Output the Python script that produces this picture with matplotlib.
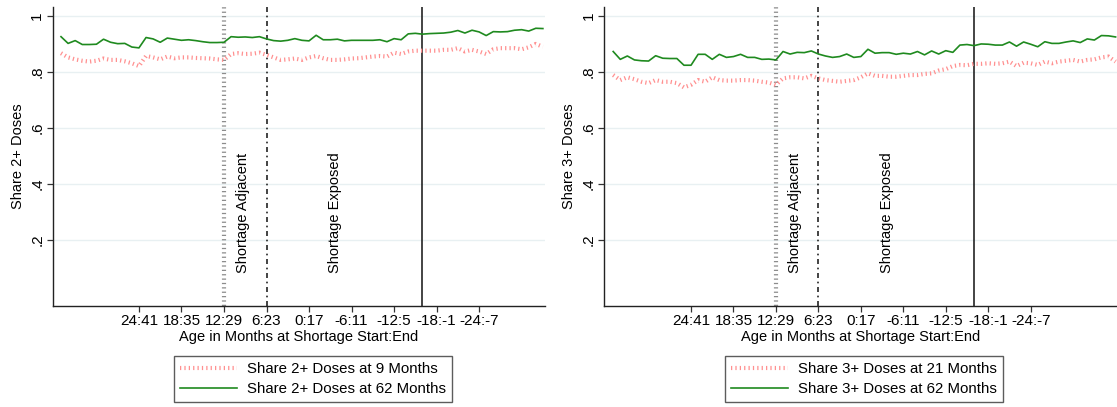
import numpy as np
import matplotlib.pyplot as plt

plt.rcParams['font.family'] = ['Liberation Sans', 'DejaVu Sans']
plt.rcParams['font.size'] = 10.5

# age in months at shortage start (x axis runs from old to young)
start_left = np.arange(35, -34, -1)
start_right = np.arange(35, -37, -1)

share2_9m = [0.867, 0.852, 0.845, 0.840, 0.837, 0.840, 0.848, 0.843, 0.843, 0.838,
             0.831, 0.821, 0.857, 0.852, 0.845, 0.855, 0.849, 0.852, 0.852, 0.850,
             0.849, 0.848, 0.845, 0.843, 0.864, 0.867, 0.864, 0.865, 0.869, 0.861,
             0.852, 0.843, 0.845, 0.848, 0.843, 0.852, 0.857, 0.849, 0.843, 0.843,
             0.845, 0.848, 0.849, 0.852, 0.855, 0.857, 0.855, 0.869, 0.864, 0.873,
             0.876, 0.876, 0.876, 0.876, 0.879, 0.879, 0.885, 0.873, 0.879, 0.873,
             0.864, 0.881, 0.885, 0.885, 0.885, 0.881, 0.888, 0.900, 0.890]
share2_62m = [0.926, 0.902, 0.912, 0.898, 0.898, 0.899, 0.917, 0.906, 0.901, 0.902,
              0.889, 0.886, 0.923, 0.918, 0.906, 0.921, 0.917, 0.913, 0.915, 0.912,
              0.908, 0.905, 0.905, 0.906, 0.926, 0.924, 0.925, 0.923, 0.926, 0.918,
              0.912, 0.910, 0.913, 0.919, 0.913, 0.911, 0.931, 0.915, 0.915, 0.917,
              0.911, 0.913, 0.913, 0.913, 0.913, 0.915, 0.908, 0.919, 0.915, 0.936,
              0.938, 0.935, 0.937, 0.938, 0.939, 0.942, 0.948, 0.939, 0.949, 0.943,
              0.930, 0.944, 0.943, 0.944, 0.949, 0.951, 0.946, 0.956, 0.955]
share3_21m = [0.789, 0.771, 0.781, 0.774, 0.765, 0.760, 0.771, 0.765, 0.765, 0.760,
              0.745, 0.754, 0.771, 0.765, 0.781, 0.771, 0.769, 0.769, 0.771, 0.771,
              0.769, 0.765, 0.762, 0.754, 0.777, 0.781, 0.781, 0.777, 0.786, 0.777,
              0.771, 0.768, 0.765, 0.768, 0.771, 0.781, 0.795, 0.786, 0.786, 0.783,
              0.783, 0.786, 0.789, 0.789, 0.793, 0.795, 0.805, 0.810, 0.821, 0.825,
              0.824, 0.829, 0.829, 0.831, 0.829, 0.831, 0.837, 0.821, 0.833, 0.831,
              0.825, 0.837, 0.831, 0.837, 0.840, 0.843, 0.837, 0.843, 0.845, 0.852,
              0.855, 0.837]
share3_62m = [0.873, 0.845, 0.857, 0.843, 0.840, 0.839, 0.858, 0.849, 0.848, 0.848,
              0.824, 0.824, 0.863, 0.863, 0.845, 0.863, 0.852, 0.855, 0.863, 0.852,
              0.852, 0.845, 0.846, 0.843, 0.873, 0.864, 0.870, 0.869, 0.875, 0.864,
              0.857, 0.852, 0.855, 0.864, 0.852, 0.855, 0.881, 0.867, 0.869, 0.869,
              0.863, 0.867, 0.864, 0.873, 0.861, 0.875, 0.864, 0.876, 0.870, 0.896,
              0.898, 0.894, 0.900, 0.899, 0.896, 0.896, 0.907, 0.892, 0.907, 0.899,
              0.890, 0.908, 0.902, 0.902, 0.907, 0.911, 0.905, 0.918, 0.914, 0.930,
              0.929, 0.925]

xtick_pos = [24, 18, 12, 6, 0, -6, -12, -18, -24]
xtick_labels = ['24:41', '18:35', '12:29', '6:23', '0:17', '-6:11', '-12:5', '-18:-1', '-24:-7']
ytick_pos = [0.2, 0.4, 0.6, 0.8, 1.0]
ytick_labels = ['.2', '.4', '.6', '.8', '1']

adjacent_start = 12
exposed_start = 6
shortage_end = -16

W, H = 1117, 407
fig = plt.figure(figsize=(W / 100, H / 100), dpi=100)

RED = '#ff9090'
GREEN = '#1f8a1f'
tick_style = (0, (0.3, 0.75))


def panel(x0, x1, xlim, x, red, green, ylabel, red_lab, green_lab, leg_x):
    ax = fig.add_axes([x0 / W, 1 - 306 / H, (x1 - x0) / W, 299 / H])
    ax.set_xlim(*xlim)
    ax.set_ylim(-0.036, 1.032)
    for v in ytick_pos:
        ax.axhline(v, color='#e8f0f2', lw=1.0, zorder=0)
    ax.axvline(adjacent_start, color='#8c8c8c', lw=3, ls=tick_style,
               dash_capstyle='butt', zorder=1)
    ax.axvline(exposed_start, color='#222222', lw=1.2, ls=(0, (3, 2.2, 1, 2.2)), zorder=1)
    ax.axvline(shortage_end, color='#111111', lw=1.1, zorder=1)
    l1, = ax.plot(x, red, color=RED, lw=3, ls=tick_style, dash_capstyle='butt',
                  label=red_lab, zorder=2)
    l2, = ax.plot(x, green, color=GREEN, lw=1.2, label=green_lab, zorder=3)
    ax.text(9.3, 0.082, 'Shortage Adjacent', rotation=90, ha='center', va='bottom')
    ax.text(-3.7, 0.082, 'Shortage Exposed', rotation=90, ha='center', va='bottom')

    ax.set_xticks(xtick_pos)
    ax.set_xticklabels(xtick_labels, fontsize=11)
    ax.set_yticks(ytick_pos)
    ax.set_yticklabels(ytick_labels, rotation=90, va='center', fontsize=11)
    ax.tick_params(axis='both', length=4, width=0.9, color='#333333', pad=2)
    ax.set_xlabel('Age in Months at Shortage Start:End', labelpad=1)
    ax.set_ylabel(ylabel, labelpad=4)
    for side in ('top', 'right'):
        ax.spines[side].set_visible(False)
    for side in ('left', 'bottom'):
        ax.spines[side].set_color('#222222')
        ax.spines[side].set_linewidth(1.0)

    leg = ax.legend([l1, l2], [red_lab, green_lab], loc='upper center',
                    bbox_to_anchor=(leg_x / W, 1 - 356 / H), bbox_transform=fig.transFigure,
                    frameon=True, fancybox=False, edgecolor='#333333', fontsize=10.8,
                    handlelength=3.8, handletextpad=0.7, borderpad=0.4,
                    labelspacing=0.4, borderaxespad=0)
    leg.get_frame().set_linewidth(1.0)
    return ax


panel(52.5, 545, (36.2, -33.3), start_left, share2_9m, share2_62m, 'Share 2+ Doses',
      'Share 2+ Doses at 9 Months', 'Share 2+ Doses at 62 Months', 313)
panel(604, 1117, (36.3, -36.2), start_right, share3_21m, share3_62m, 'Share 3+ Doses',
      'Share 3+ Doses at 21 Months', 'Share 3+ Doses at 62 Months', 864)

fig.savefig('out.png', dpi=100)
